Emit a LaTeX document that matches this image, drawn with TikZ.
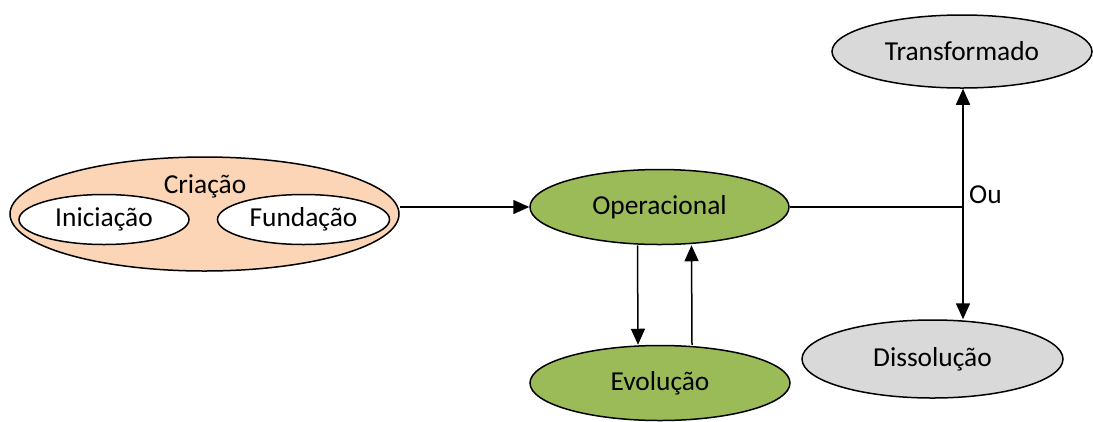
\documentclass[tikz,border=0pt]{standalone}
\usepackage{fontspec}
\setmainfont{Carlito}
\usetikzlibrary{shapes.geometric,arrows.meta}
\definecolor{peach}{HTML}{FBD5B5}
\definecolor{leaf}{HTML}{9BBB59}
\definecolor{stone}{HTML}{D9D9D9}
\newcommand{\lblfont}{\fontsize{27.5}{32}\selectfont}
\tikzset{
  oval/.style={ellipse, draw=black, line width=1.5bp, inner sep=0pt,
    font=\lblfont},
  arr/.style={line width=1.5bp, -{Triangle[length=16bp,width=14bp]}},
  plain/.style={line width=1.5bp}
}
\begin{document}
\begin{tikzpicture}[x=1bp,y=-1bp]
\useasboundingbox (0,0) rectangle (1093,421);
% creation stage with its two sub-phases
\node[oval, fill=peach, minimum width=389bp, minimum height=114bp] (cria) at (204.5,214) {};
\node[font=\lblfont] (crial) at (205,186) {Criação};
\node[oval, fill=white, minimum width=170bp, minimum height=50bp] (inic) at (104,219.5) {Iniciação};
\node[oval, fill=white, minimum width=172bp, minimum height=50bp] (fund) at (303.5,219.5) {Fundação};
% operating stage and evolution loop
\node[oval, fill=leaf, minimum width=259bp, minimum height=75bp] (oper) at (659.5,207) {Operacional};
\node[oval, fill=leaf, minimum width=260bp, minimum height=75bp] (evol) at (660,383) {Evolução};
% possible outcomes
\node[oval, fill=stone, minimum width=260bp, minimum height=73bp] (trans) at (962,51.5) {Transformado};
\node[oval, fill=stone, minimum width=261bp, minimum height=78bp] (diss) at (932.5,359) {Dissolução};
% connectors
\draw[arr] (oper.west -| cria.east) -- (oper.west);
\draw[arr] ([xshift=-22bp]oper.south) -- ([xshift=-22bp]evol.north);
\draw[arr] ([xshift=32bp]evol.north) -- ([xshift=32bp]oper.south);
\coordinate (j) at (963,207);
\draw[plain] (oper.east) -- (j);
\draw[arr] (j) -- (trans.south -| j);
\draw[arr] (j) -- (diss.north -| j);
\node[anchor=west, font=\lblfont, inner sep=0pt] (ou) at (969,195) {Ou};
\end{tikzpicture}
\end{document}
